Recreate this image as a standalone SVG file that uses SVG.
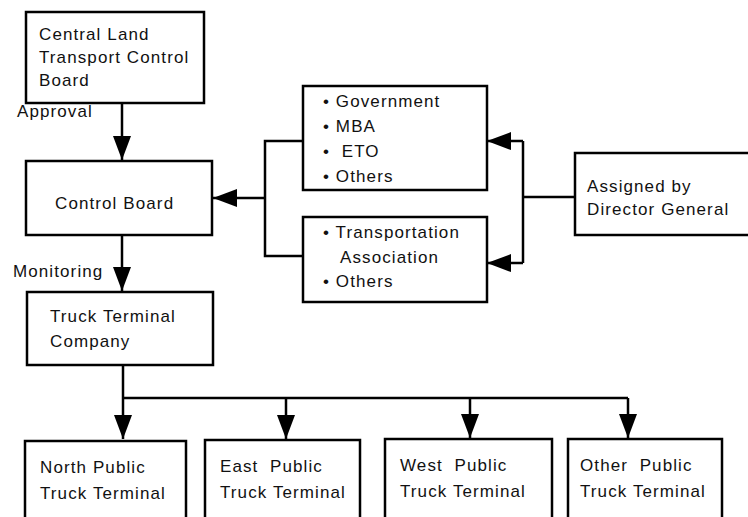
<svg xmlns="http://www.w3.org/2000/svg" width="748" height="517" viewBox="0 0 748 517">
<defs>
<style>
.box{fill:#fff;stroke:#000;stroke-width:2.5}
.ln{fill:none;stroke:#000;stroke-width:2.5}
text{font-family:"Liberation Sans",Arial,sans-serif;font-size:17px;fill:#111;letter-spacing:1.1px}
</style>
<marker id="ah" viewBox="0 0 24 20" refX="24" refY="10" markerWidth="24" markerHeight="20" markerUnits="userSpaceOnUse" orient="auto">
<path d="M0,1 L24,10 L0,19 Z" fill="#000"/>
</marker>
</defs>
<rect width="748" height="517" fill="#fff"/>
<g id="connectors">
<path class="ln" d="M122,103 V160" marker-end="url(#ah)"/>
<path class="ln" d="M122,235 V291" marker-end="url(#ah)"/>
<path class="ln" d="M123,365 V439" marker-end="url(#ah)"/>
<path class="ln" d="M123,398 H628"/>
<path class="ln" d="M286,398 V439" marker-end="url(#ah)"/>
<path class="ln" d="M470,398 V438" marker-end="url(#ah)"/>
<path class="ln" d="M628,398 V438" marker-end="url(#ah)"/>
<path class="ln" d="M303,141 H265 V256 H303"/>
<path class="ln" d="M265,198 H213" marker-end="url(#ah)"/>
<path class="ln" d="M575,197 H523"/>
<path class="ln" d="M523,141 V263"/>
<path class="ln" d="M523,141 H487" marker-end="url(#ah)"/>
<path class="ln" d="M523,263 H487" marker-end="url(#ah)"/>
</g>
<g id="central-land">
<rect class="box" x="26" y="12" width="178" height="91"/>
<text x="39" y="40">Central Land</text>
<text x="39" y="63">Transport Control</text>
<text x="39" y="86">Board</text>
</g>
<g id="approval-label"><text x="17" y="117">Approval</text></g>
<g id="control-board">
<rect class="box" x="26" y="161" width="186" height="74"/>
<text x="55" y="209">Control Board</text>
</g>
<g id="monitoring-label"><text x="13" y="277">Monitoring</text></g>
<g id="truck-terminal-company">
<rect class="box" x="27" y="292" width="186" height="73"/>
<text x="50" y="322">Truck Terminal</text>
<text x="50" y="347">Company</text>
</g>
<g id="government-group">
<rect class="box" x="303" y="86" width="184" height="104"/>
<text x="323" y="107">• Government</text>
<text x="323" y="132">• MBA</text>
<text x="323" y="157" xml:space="preserve">•  ETO</text>
<text x="323" y="182">• Others</text>
</g>
<g id="transport-group">
<rect class="box" x="303" y="217" width="184" height="85"/>
<text x="323" y="238">• Transportation</text>
<text x="340" y="263">Association</text>
<text x="323" y="287">• Others</text>
</g>
<g id="director-general">
<rect class="box" x="575" y="153" width="180" height="82"/>
<text x="587" y="192">Assigned by</text>
<text x="587" y="215">Director General</text>
</g>
<g id="north">
<rect class="box" x="25" y="441" width="161" height="80"/>
<text x="40" y="473">North Public</text>
<text x="40" y="499">Truck Terminal</text>
</g>
<g id="east">
<rect class="box" x="205" y="440" width="155" height="81"/>
<text x="220" y="472" xml:space="preserve">East  Public</text>
<text x="220" y="498">Truck Terminal</text>
</g>
<g id="west">
<rect class="box" x="385" y="439" width="167" height="82"/>
<text x="400" y="471" xml:space="preserve">West  Public</text>
<text x="400" y="497">Truck Terminal</text>
</g>
<g id="other">
<rect class="box" x="568" y="439" width="154" height="82"/>
<text x="580" y="471" xml:space="preserve">Other  Public</text>
<text x="580" y="497">Truck Terminal</text>
</g>
</svg>
